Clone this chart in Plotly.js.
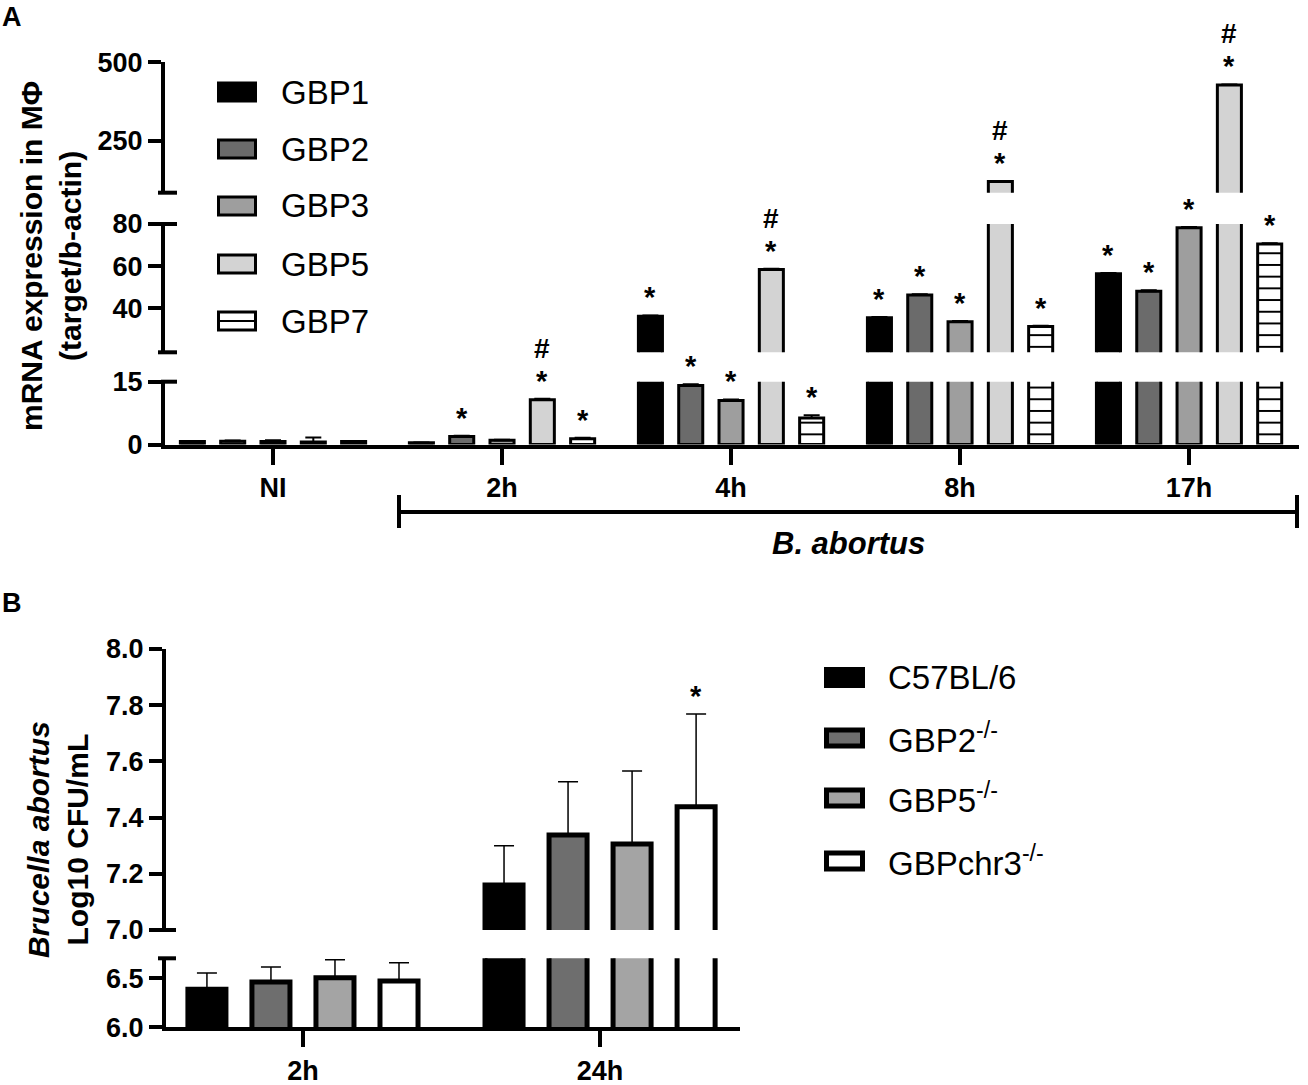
<!DOCTYPE html>
<html>
<head>
<meta charset="utf-8">
<script src="https://cdn.plot.ly/plotly-3.0.1.min.js"></script>
<style>
  html, body { margin: 0; padding: 0; background: #fff; }
  #chart { width: 1308px; height: 1085px; }
</style>
</head>
<body>
<div id="chart"></div>
<script>
// ---- panel A data (mRNA, target/b-actin) ----
const categoriesA = ['NI', '2h', '4h', '8h', '17h'];
const seriesA = ['GBP1', 'GBP2', 'GBP3', 'GBP5', 'GBP7'];
const gbp1 = [0.7, 0.4, 36.2, 35.5, 56.4];
const gbp2 = [0.8, 1.9, 14.1, 46.3, 48.1];
const gbp3 = [0.7, 1.0, 10.5, 33.6, 78.2];
const gbp5 = [0.6, 10.7, 58.4, 121, 428];
const gbp7 = [0.7, 1.4, 6.3, 31.3, 70.5];
const gbp1Err = [0.15, 0.1, 0.4, 0.3, 0.4];
const gbp2Err = [0.15, 0.2, 0.3, 0.3, 0.4];
const gbp3Err = [0.3, 0.15, 0.25, 0.3, 0.4];
const gbp5Err = [1.1, 0.25, 0.4, 0.8, 1.5];
const gbp7Err = [0.15, 0.2, 0.7, 0.4, 0.4];
// significance marks per bar
const gbp1Sig = ['', '', '*', '*', '*'];
const gbp2Sig = ['', '*', '*', '*', '*'];
const gbp3Sig = ['', '', '*', '*', '*'];
const gbp5Sig = ['', '*#', '*#', '*#', '*#'];
const gbp7Sig = ['', '*', '*', '*', '*'];

// ---- panel B data (Log10 CFU/mL) ----
const categoriesB = ['2h', '24h'];
const seriesB = ['C57BL/6', 'GBP2<sup>-/-</sup>', 'GBP5<sup>-/-</sup>', 'GBPchr3<sup>-/-</sup>'];
const c57 = [6.39, 7.16];
const ko2 = [6.463, 7.338];
const ko5 = [6.507, 7.306];
const koChr3 = [6.473, 7.439];
const c57Err = [0.166, 0.14];
const ko2Err = [0.153, 0.19];
const ko5Err = [0.183, 0.26];
const koChr3Err = [0.187, 0.33];
const c57Sig = ['', ''];
const ko2Sig = ['', ''];
const ko5Sig = ['', ''];
const koChr3Sig = ['', '*'];

const W = 1308, H = 1085;
const px = x => x / W;
const py = y => 1 - y / H;
const FONT = 'Liberation Sans, Arial, Helvetica, sans-serif';

const valsA = [gbp1, gbp2, gbp3, gbp5, gbp7];
const errsA = [gbp1Err, gbp2Err, gbp3Err, gbp5Err, gbp7Err];
const sigsA = [gbp1Sig, gbp2Sig, gbp3Sig, gbp5Sig, gbp7Sig];
const colorsA = ['#000000', '#6b6b6b', '#9e9e9e', '#d3d3d3', '#ffffff'];

const valsB = [c57, ko2, ko5, koChr3];
const errsB = [c57Err, ko2Err, ko5Err, koChr3Err];
const sigsB = [c57Sig, ko2Sig, ko5Sig, koChr3Sig];
const colorsB = ['#000000', '#6e6e6e', '#a4a4a4', '#ffffff'];

const slotA = 0.176, widthA = 0.105;
const slotB = 0.2155, widthB = 0.128;

let traces = [];
let annotations = [];
let shapes = [];

// panel A: every series drawn on the three broken y segments
['y', 'y2', 'y3'].forEach(ax => {
  for (let i = 0; i < valsA.length; ++i) {
    let marker = {color: colorsA[i], line: {color: '#000', width: 3}};
    if (i == 4) {
      marker.pattern = {shape: '-', fgcolor: '#000', bgcolor: '#fff', size: 11.7, solidity: 0.17, fillmode: 'replace'};
    }
    traces.push({
      type: 'bar', x: categoriesA, y: valsA[i],
      xaxis: 'x', yaxis: ax,
      width: widthA, offset: (i - 2) * slotA - widthA / 2,
      marker: marker,
      error_y: {type: 'data', symmetric: false, array: errsA[i], arrayminus: errsA[i].map(() => 0),
                color: '#000', thickness: 2, width: 8},
      showlegend: false, hoverinfo: 'skip'
    });
  }
});

// panel B: two y segments
['y4', 'y5'].forEach(ax => {
  for (let i = 0; i < valsB.length; ++i) {
    traces.push({
      type: 'bar', x: categoriesB, y: valsB[i],
      xaxis: 'x2', yaxis: ax,
      width: widthB, offset: (i - 1.5) * slotB - widthB / 2,
      marker: {color: colorsB[i], line: {color: '#000', width: 5}},
      error_y: {type: 'data', symmetric: false, array: errsB[i], arrayminus: errsB[i].map(() => 0),
                color: '#000', thickness: 1.5, width: 10},
      showlegend: false, hoverinfo: 'skip'
    });
  }
});

function addMarks(sig, x, top, xref, yref) {
  if (sig.indexOf('*') >= 0) {
    annotations.push({x: x, y: top, xref: xref, yref: yref, text: '<b>*</b>', showarrow: false,
      xanchor: 'center', yanchor: 'bottom', yshift: 0, font: {family: FONT, size: 29, color: '#000'}});
  }
  if (sig.indexOf('#') >= 0) {
    annotations.push({x: x, y: top, xref: xref, yref: yref, text: '<b>#</b>', showarrow: false,
      xanchor: 'center', yanchor: 'bottom', yshift: 33, font: {family: FONT, size: 28, color: '#000'}});
  }
}

for (let i = 0; i < valsA.length; ++i) {
  for (let j = 0; j < categoriesA.length; ++j) {
    if (!sigsA[i][j]) continue;
    const top = valsA[i][j] + errsA[i][j];
    const ax = top <= 15 ? 'y' : (top <= 80 ? 'y2' : 'y3');
    addMarks(sigsA[i][j], j + (i - 2) * slotA, top, 'x', ax);
  }
}
for (let i = 0; i < valsB.length; ++i) {
  for (let j = 0; j < categoriesB.length; ++j) {
    if (!sigsB[i][j]) continue;
    const top = valsB[i][j] + errsB[i][j];
    addMarks(sigsB[i][j], j + (i - 1.5) * slotB, top, 'x2', top <= 6.7 ? 'y4' : 'y5');
  }
}

// hand drawn legends (big swatches like the original)
function legendRow(x0, x1, yc, h, lw, fill, label, stripe) {
  shapes.push({type: 'rect', xref: 'paper', yref: 'paper',
    x0: px(x0), x1: px(x1), y0: py(yc + h / 2), y1: py(yc - h / 2),
    fillcolor: fill, line: {color: '#000', width: lw}});
  if (stripe) {
    shapes.push({type: 'line', xref: 'paper', yref: 'paper',
      x0: px(x0), x1: px(x1), y0: py(yc), y1: py(yc), line: {color: '#000', width: 2}});
  }
  annotations.push({xref: 'paper', yref: 'paper', x: px(x1 + 23), y: py(yc), text: label,
    xanchor: 'left', yanchor: 'middle', showarrow: false,
    font: {family: FONT, size: 33, color: '#000'}});
}
const rowsA = [92, 149, 206, 264, 321];
for (let i = 0; i < seriesA.length; ++i) {
  legendRow(218.5, 255.5, rowsA[i], 18, 3, colorsA[i], seriesA[i], i == 4);
}
const rowsB = [677.5, 738, 798, 861];
for (let i = 0; i < seriesB.length; ++i) {
  legendRow(826.5, 862.5, rowsB[i], 16, 5, colorsB[i], seriesB[i], false);
}

// axis break caps
function hline(x0, x1, y, w) {
  shapes.push({type: 'line', xref: 'paper', yref: 'paper',
    x0: px(x0), x1: px(x1), y0: py(y), y1: py(y), line: {color: '#000', width: w}});
}
hline(158, 177, 192.7, 4);
hline(161, 177, 224, 4);
hline(158, 177, 352.3, 4);
hline(161, 177, 381.7, 4);
hline(161, 176, 930, 4);
hline(158, 176, 958.3, 4);

// B. abortus bracket
hline(397, 1299, 512, 4);
shapes.push({type: 'line', xref: 'paper', yref: 'paper', x0: px(399), x1: px(399), y0: py(495), y1: py(528), line: {color: '#000', width: 4}});
shapes.push({type: 'line', xref: 'paper', yref: 'paper', x0: px(1297), x1: px(1297), y0: py(495), y1: py(528), line: {color: '#000', width: 4}});
annotations.push({xref: 'paper', yref: 'paper', x: px(848), y: py(543), text: '<b><i>B. abortus</i></b>',
  xanchor: 'center', yanchor: 'middle', showarrow: false, font: {family: FONT, size: 31, color: '#000'}});

// y titles and panel letters
annotations.push({xref: 'paper', yref: 'paper', x: px(51), y: py(256), textangle: -90,
  xanchor: 'center', yanchor: 'middle',
  text: '<b>mRNA expression in MΦ<br>(target/b-actin)</b>', showarrow: false,
  font: {family: FONT, size: 30, color: '#000'}});
annotations.push({xref: 'paper', yref: 'paper', x: px(58), y: py(840), textangle: -90,
  xanchor: 'center', yanchor: 'middle',
  text: '<b><i>Brucella abortus</i><br>Log10 CFU/mL</b>', showarrow: false,
  font: {family: FONT, size: 30, color: '#000'}});
annotations.push({xref: 'paper', yref: 'paper', x: px(12), y: py(17), text: '<b>A</b>', showarrow: false,
  xanchor: 'center', yanchor: 'middle', font: {family: FONT, size: 27, color: '#000'}});
annotations.push({xref: 'paper', yref: 'paper', x: px(12), y: py(603), text: '<b>B</b>', showarrow: false,
  xanchor: 'center', yanchor: 'middle', font: {family: FONT, size: 27, color: '#000'}});

const tickFont = {family: FONT, size: 27, color: '#000', weight: 'bold'};
const baseY = {
  showline: true, linewidth: 4, linecolor: '#000', ticks: 'outside', ticklen: 13, tickwidth: 4,
  tickcolor: '#000', showgrid: false, zeroline: false, tickfont: tickFont, fixedrange: true
};
const baseX = {
  type: 'category', showline: true, linewidth: 4, linecolor: '#000', ticks: 'outside', ticklen: 16,
  tickwidth: 4, tickcolor: '#000', showgrid: false, zeroline: false, fixedrange: true,
  tickfont: {family: FONT, size: 27, color: '#000', weight: 'bold'}
};

const layout = {
  width: W, height: H, autosize: false,
  margin: {l: 0, r: 0, t: 0, b: 0},
  paper_bgcolor: '#fff', plot_bgcolor: 'rgba(0,0,0,0)',
  barmode: 'group',
  showlegend: false,
  xaxis: Object.assign({}, baseX, {domain: [px(165), px(1299)], anchor: 'y',
    categoryorder: 'array', categoryarray: categoriesA, range: [-0.4716, 4.48]}),
  yaxis: Object.assign({}, baseY, {domain: [py(444.5), py(381.7)], anchor: 'x', range: [0, 15], tickvals: [0, 15]}),
  yaxis2: Object.assign({}, baseY, {domain: [py(352.3), py(224)], anchor: 'x', range: [19.1, 80], tickvals: [40, 60, 80]}),
  yaxis3: Object.assign({}, baseY, {domain: [py(192.7), py(62.3)], anchor: 'x', range: [85.8, 500], tickvals: [250, 500]}),
  xaxis2: Object.assign({}, baseX, {domain: [px(166), px(740)], anchor: 'y4',
    categoryorder: 'array', categoryarray: categoriesB, range: [-0.461, 1.471]}),
  yaxis4: Object.assign({}, baseY, {domain: [py(1027.3), py(958.3)], anchor: 'x2', range: [6.0, 6.706],
    tickvals: [6.0, 6.5], tickformat: '.1f'}),
  yaxis5: Object.assign({}, baseY, {domain: [py(930), py(649)], anchor: 'x2', range: [7.0, 8.0],
    tickvals: [7.0, 7.2, 7.4, 7.6, 7.8, 8.0], tickformat: '.1f'}),
  shapes: shapes,
  annotations: annotations
};

Plotly.newPlot('chart', traces, layout, {staticPlot: true, displayModeBar: false});
</script>
</body>
</html>
